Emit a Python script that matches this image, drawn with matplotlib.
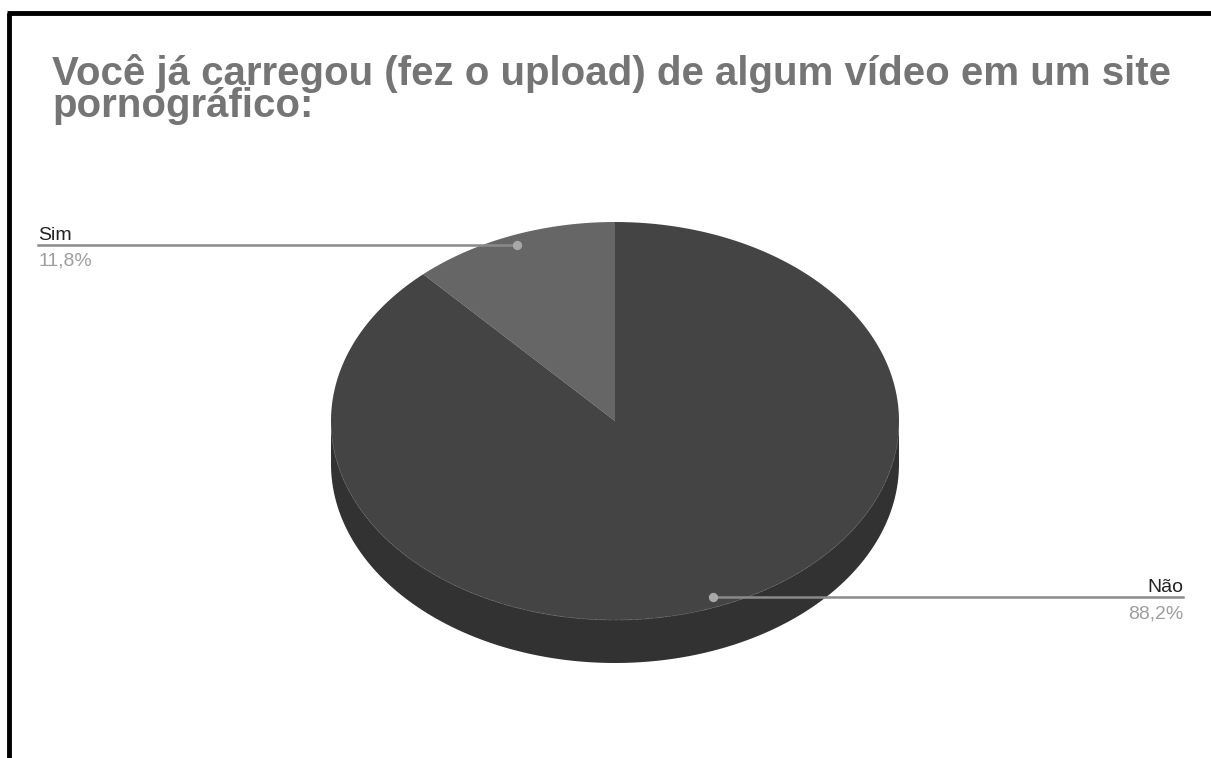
'''
3D-style pie chart: video upload answers (Sim / Não).
'''

import numpy as np
import matplotlib.pyplot as plt
from matplotlib.patches import Polygon

plt.rcParams['font.family'] = ['Liberation Sans', 'DejaVu Sans']

TITLE = 'Você já carregou (fez o upload) de algum vídeo em um site\npornográfico:'
LABELS = ['Sim', 'Não']
VALUES = [11.8, 88.2]
PCT_TEXT = ['11,8%', '88,2%']
TOP_COLORS = ['#666666', '#444444']
SIDE_COLOR = '#323232'

# pie geometry in pixels
CX, CY = 615, 421
RX, RY = 284, 199
DEPTH = 43


def ellipse_pt(theta_deg, r=1.0, dy=0):
    '''Point on the top ellipse, angle clockwise from 12 o'clock.'''
    t = np.radians(theta_deg)
    return CX + r * RX * np.sin(t), CY - r * RY * np.cos(t) + dy


fig = plt.figure(figsize=(12.11, 7.58), dpi=100)
ax = fig.add_axes([0, 0, 1, 1])
ax.set_xlim(0, 1211)
ax.set_ylim(758, 0)
ax.axis('off')

# frame lines (left and top)
ax.plot([9, 9], [13, 758], color='black', lw=3.5, solid_capstyle='butt')
ax.plot([7, 1211], [13, 13], color='black', lw=3.5, solid_capstyle='butt')

# title, two tight lines
ax.text(52, 54, TITLE, fontsize=29, fontweight='bold', color='#757575',
        va='top', ha='left', linespacing=0.8)

# side of the pie (front half)
front = np.linspace(90, 270, 200)
top_x, top_y = ellipse_pt(front)
bot_x, bot_y = ellipse_pt(front[::-1], dy=DEPTH)
side = Polygon(np.column_stack([np.r_[top_x, bot_x], np.r_[top_y, bot_y]]),
               closed=True, fc=SIDE_COLOR, ec='none')
ax.add_patch(side)

# top faces, Sim is drawn counter-clockwise from the top
total = sum(VALUES)
spans = []
start = 360 - 360 * VALUES[0] / total
spans.append((start, 360))
spans.append((0, start))
for (a0, a1), col in zip(spans, TOP_COLORS):
    th = np.linspace(a0, a1, 300)
    ex, ey = ellipse_pt(th)
    poly = Polygon(np.column_stack([np.r_[CX, ex], np.r_[CY, ey]]),
                   closed=True, fc=col, ec='none')
    ax.add_patch(poly)

# faint rim line along the front edge
ex, ey = ellipse_pt(np.linspace(95, 265, 200))
ax.plot(ex, ey, color='#565656', lw=0.7, ls=(0, (4, 2)))

# leader lines and labels
for i, (a0, a1) in enumerate(spans):
    mid = (a0 + a1) / 2
    dx, dy = ellipse_pt(mid, r=0.95)
    if dx < CX:
        end_x, ha = 38, 'left'
    else:
        end_x, ha = 1183, 'right'
    ax.plot([end_x, dx], [dy, dy], color='#8a8a8a', lw=1.8, zorder=3)
    ax.scatter([dx], [dy], s=45, color='#a8a8a8', zorder=4, linewidths=0)
    ax.text(end_x, dy - 5, LABELS[i], fontsize=14, color='#222222',
            ha=ha, va='baseline')
    ax.text(end_x, dy + 21, PCT_TEXT[i], fontsize=14, color='#9e9e9e',
            ha=ha, va='baseline')

fig.savefig('out.png', dpi=100, facecolor='white')
